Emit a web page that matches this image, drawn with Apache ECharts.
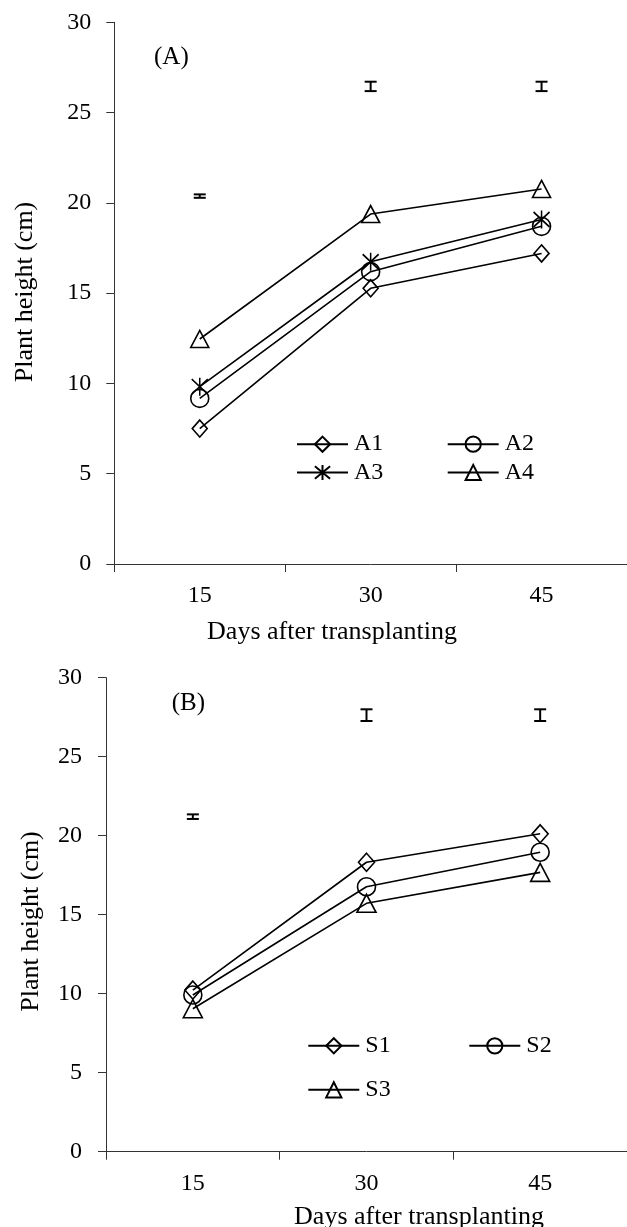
<!DOCTYPE html>
<html>
<head>
<meta charset="utf-8">
<script src="https://cdn.jsdelivr.net/npm/echarts@6/dist/echarts.min.js"></script>
<style>
html,body{margin:0;padding:0;background:#fff;}
#main{width:627px;height:1227px;}
</style>
</head>
<body>
<div id="main"></div>
<script>
// ---- data ----
const categories = ['15', '30', '45'];
const yTicks = [0, 5, 10, 15, 20, 25, 30];

const A1 = [7.50, 15.27, 17.20];
const A2 = [9.17, 16.19, 18.70];
const A3 = [9.82, 16.74, 19.08];
const A4 = [12.46, 19.38, 20.77];
const errA_low  = [20.28, 26.19, 26.19];
const errA_high = [20.47, 26.71, 26.71];

const S1 = [10.23, 18.32, 20.12];
const S2 = [9.92, 16.77, 18.95];
const S3 = [9.05, 15.72, 17.68];
const errS_low  = [21.06, 27.26, 27.26];
const errS_high = [21.35, 28.00, 28.00];

// ---- styles ----
const FONT = "'Liberation Serif', 'Times New Roman', serif";
const AXIS_COLOR = '#333';
const ASTERISK = 'path://M0,0 L20,20 M20,0 L0,20 M10,-2 L10,22';

const chart = echarts.init(document.getElementById('main'), null, {renderer: 'canvas'});

function xAxisDef(gridIndex) {
  return {
    type: 'category', gridIndex: gridIndex, data: categories, boundaryGap: true,
    axisLine: {lineStyle: {color: AXIS_COLOR, width: 1}},
    axisTick: {show: true, length: 8, inside: false, lineStyle: {color: AXIS_COLOR}},
    axisLabel: {fontFamily: FONT, fontSize: 24, color: '#000', margin: 20},
    splitLine: {show: false}
  };
}
function yAxisDef(gridIndex, margin) {
  return {
    type: 'value', gridIndex: gridIndex, min: yTicks[0], max: yTicks[yTicks.length - 1], interval: 5,
    axisLine: {show: true, lineStyle: {color: AXIS_COLOR, width: 1}},
    axisTick: {show: true, length: 8, inside: false, lineStyle: {color: AXIS_COLOR}},
    axisLabel: {fontFamily: FONT, fontSize: 24, color: '#000', margin: margin},
    splitLine: {show: false}
  };
}

function lineSeries(name, data, symbol, size, gridIndex) {
  return {
    name: name, type: 'line', xAxisIndex: gridIndex, yAxisIndex: gridIndex,
    data: data, symbol: symbol, symbolSize: size, showAllSymbol: true,
    lineStyle: {color: '#000', width: 1.6},
    itemStyle: {color: 'transparent', borderColor: '#000', borderWidth: 1.6},
    emphasis: {disabled: true}, animation: false, z: 3
  };
}

function errSeries(low, high, gridIndex) {
  return {
    type: 'custom', xAxisIndex: gridIndex, yAxisIndex: gridIndex,
    data: categories.map((c, i) => [i, low[i], high[i]]),
    renderItem: function (params, api) {
      const x = api.value(0);
      const p1 = api.coord([x, api.value(1)]);
      const p2 = api.coord([x, api.value(2)]);
      const w = 6;
      const st = {stroke: '#000', lineWidth: 2};
      return {
        type: 'group',
        children: [
          {type: 'line', shape: {x1: p1[0], y1: p1[1], x2: p2[0], y2: p2[1]}, style: st},
          {type: 'line', shape: {x1: p1[0] - w, y1: p1[1], x2: p1[0] + w, y2: p1[1]}, style: st},
          {type: 'line', shape: {x1: p2[0] - w, y1: p2[1], x2: p2[0] + w, y2: p2[1]}, style: st}
        ]
      };
    },
    animation: false, silent: true, z: 2
  };
}

function legendItem(name, left, centerY) {
  return {
    data: [name], left: left, top: centerY - 9.5, padding: 0,
    itemWidth: 51, itemHeight: 19, selectedMode: false,
    textStyle: {fontFamily: FONT, fontSize: 24, color: '#000', padding: [0, 0, 0, 1]}
  };
}

const option = {
  backgroundColor: '#fff',
  animation: false,
  grid: [
    {left: 114.3, top: 22.3, width: 517.5, height: 541.7, containLabel: false},
    {left: 106, top: 677.7, width: 527.5, height: 474, containLabel: false}
  ],
  xAxis: [xAxisDef(0), xAxisDef(1)],
  yAxis: [yAxisDef(0, 23), yAxisDef(1, 24)],
  legend: [
    legendItem('A1', 296, 441.7),
    legendItem('A2', 446.7, 441.7),
    legendItem('A3', 296, 470),
    legendItem('A4', 446.7, 470),
    legendItem('S1', 307.3, 1043.3),
    legendItem('S2', 468.3, 1043.3),
    legendItem('S3', 307.3, 1087.3)
  ],
  series: [
    errSeries(errA_low, errA_high, 0),
    lineSeries('A1', A1, 'diamond', [15, 17], 0),
    lineSeries('A2', A2, 'circle', 18, 0),
    lineSeries('A3', A3, ASTERISK, [16, 18], 0),
    lineSeries('A4', A4, 'triangle', [18, 17], 0),
    errSeries(errS_low, errS_high, 1),
    lineSeries('S1', S1, 'diamond', [16, 18], 1),
    lineSeries('S2', S2, 'circle', 18, 1),
    lineSeries('S3', S3, 'triangle', [19, 18], 1)
  ],
  graphic: [
    {type: 'text', x: 154, y: 57.5, style: {text: '(A)', font: '25px ' + FONT, fill: '#000', verticalAlign: 'middle', align: 'left'}},
    {type: 'text', x: 171.7, y: 703, style: {text: '(B)', font: '25px ' + FONT, fill: '#000', verticalAlign: 'middle', align: 'left'}},
    {type: 'text', x: 332, y: 632, style: {text: 'Days after transplanting', font: '26px ' + FONT, fill: '#000', verticalAlign: 'middle', align: 'center'}},
    {type: 'text', x: 419, y: 1217, style: {text: 'Days after transplanting', font: '26px ' + FONT, fill: '#000', verticalAlign: 'middle', align: 'center'}},
    {type: 'text', x: 25, y: 292, rotation: Math.PI / 2, style: {text: 'Plant height (cm)', font: '26px ' + FONT, fill: '#000', verticalAlign: 'middle', align: 'center'}},
    {type: 'text', x: 31, y: 921.5, rotation: Math.PI / 2, style: {text: 'Plant height (cm)', font: '26px ' + FONT, fill: '#000', verticalAlign: 'middle', align: 'center'}}
  ]
};

chart.setOption(option);
</script>
</body>
</html>
